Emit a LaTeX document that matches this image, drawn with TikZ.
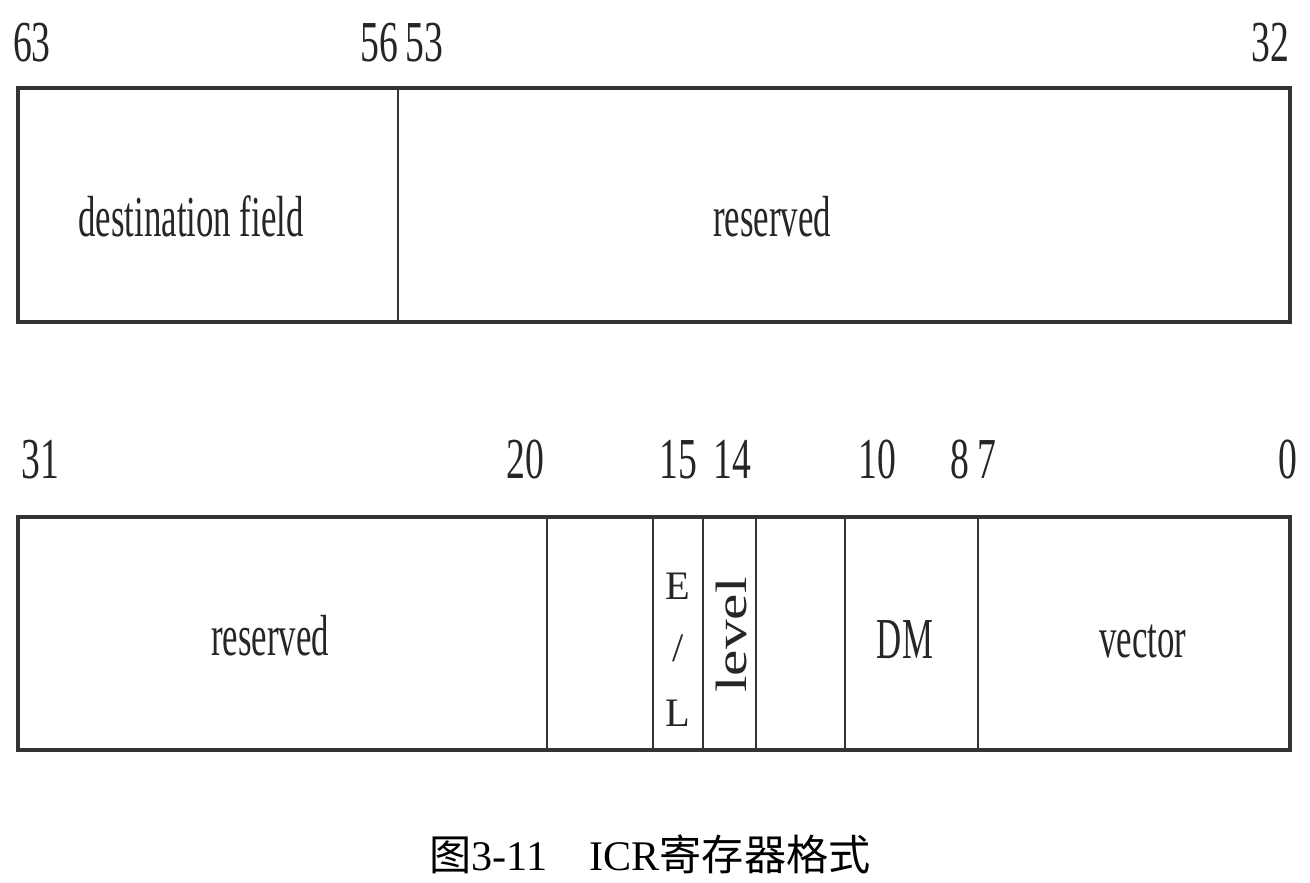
\documentclass[tikz,border=0pt]{standalone}
\usepackage{fontspec}
\setmainfont[FakeStretch=0.6]{Liberation Serif}
\newfontfamily\capfont{Liberation Serif}
\newfontfamily\numfont[FakeStretch=0.65]{Liberation Serif}
\newfontfamily\cjk{Noto Sans CJK SC}
\tikzset{
  regbox/.style={draw=black!80,line width=1.8pt},
  divider/.style={draw=black!80,line width=1.1pt},
  bitno/.style={font=\fontsize{33}{36}\numfont,text=black!85,inner sep=0pt,anchor=base},
  fieldname/.style={font=\fontsize{33}{36}\selectfont,text=black!85,inner sep=0pt,anchor=base},
  smallfield/.style={font=\fontsize{23}{25}\capfont,text=black!85,inner sep=0pt},
}
\begin{document}
\begin{tikzpicture}[x=0.02cm,y=-0.02cm]
            \useasboundingbox (0,0) rectangle (1310,882);
            % upper half, bits 63..32
            \draw[regbox] (18,88) rectangle (1290,322);
            \draw[divider] (398,88) -- (398,322);
            \node[bitno] (b63) at (32,62) {63};
            \node[bitno] (b56) at (379,62) {56};
            \node[bitno] (b53) at (424,62) {53};
            \node[bitno] (b32) at (1270,62) {32};
            \node[fieldname] (dest) at (191,236) {destination field};
            \node[fieldname] (resvhi) at (772,236) {reserved};
            % lower half, bits 31..0
            \draw[regbox] (18,517) rectangle (1290,750);
            \foreach \x in {547,653,703,756,845,978}
                \draw[divider] (\x,517) -- (\x,750);
            \node[bitno] (b31) at (40,478) {31};
            \node[bitno] (b20) at (525,478) {20};
            \node[bitno] (b15) at (678,478) {15};
            \node[bitno] (b14) at (732,478) {14};
            \node[bitno] (b10) at (877,478) {10};
            \node[bitno] (b8) at (960,478) {8};
            \node[bitno] (b7) at (987,478) {7};
            \node[bitno] (b0) at (1288,478) {0};
            \node[fieldname] (resvlo) at (270,655) {reserved};
            \node[smallfield] (trigE) at (678,586) {E};
            \node[smallfield] (trigS) at (678,648) {/};
            \node[smallfield] (trigL) at (678,713) {L};
            \node[smallfield,rotate=90,font=\fontsize{25}{27}\capfont] (level) at (731,635) {\scalebox{1.35}[1]{level}};
            \node[fieldname] (dm) at (905,658) {DM};
            \node[fieldname] (vector) at (1143,657) {vector};
            % caption
            \node[inner sep=0pt,anchor=base,font=\fontsize{24}{26}\capfont] (caption) at (650,870)
                {{\cjk 图}3-11\quad ICR{\cjk 寄存器格式}};
        \end{tikzpicture}
\end{document}
